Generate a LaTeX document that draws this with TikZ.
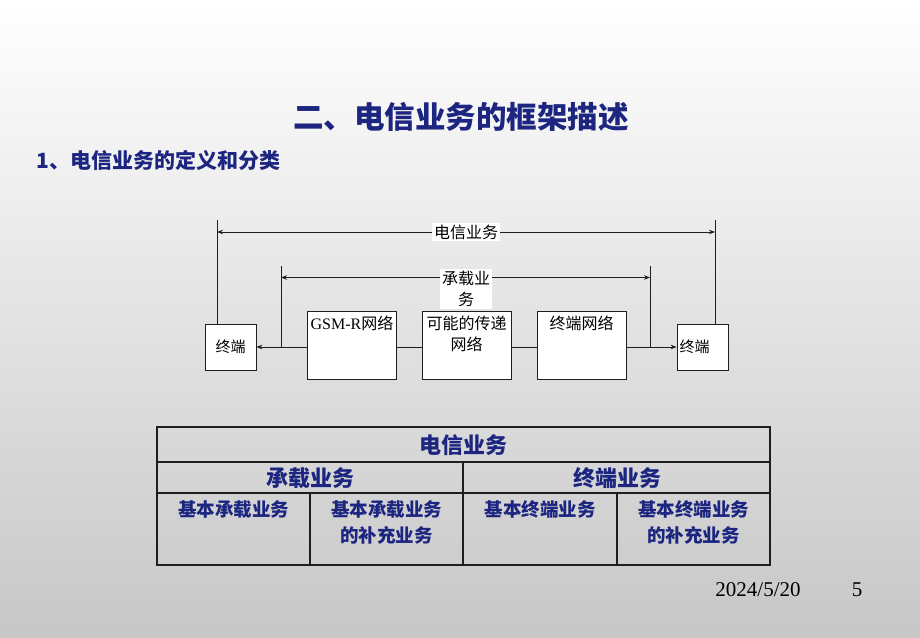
\documentclass[tikz,border=0pt]{standalone}
\usepackage{fontspec}
\setmainfont{Liberation Serif}
\newfontfamily\cjk{Noto Sans CJK SC}
\usetikzlibrary{arrows.meta}
\definecolor{titleblue}{RGB}{28,38,128}
\definecolor{linegray}{RGB}{30,30,30}
\tikzset{
  thinline/.style={draw=linegray, line width=0.8pt},
  arr/.style={thinline, -{Stealth[length=6pt,width=4.5pt]}},
  netbox/.style={thinline, fill=white, inner sep=3pt, minimum width=89pt,
    text height=15pt, text depth=47pt, align=center, anchor=north,
    font=\cjk\fontsize{16}{21}\selectfont},
  termbox/.style={thinline, fill=white, inner sep=2pt, minimum width=51pt,
    minimum height=46pt, font=\cjk\fontsize{15}{18}\selectfont},
  spanlab/.style={fill=white, inner sep=2pt, align=center,
    font=\cjk\fontsize{16}{21}\selectfont},
  headcell/.style={text=titleblue, font=\cjk\bfseries\fontsize{22}{26}\selectfont},
  subcell/.style={text=titleblue, anchor=north, align=center,
    font=\cjk\bfseries\fontsize{18.5}{26}\selectfont}
}
\begin{document}
\begin{tikzpicture}[x=1pt,y=-1pt]
% Hintergrund
\shade[top color=white, bottom color=black!22] (0,0) rectangle (920,637);
\useasboundingbox (0,0) rectangle (920,637);
% Titel
\node[text=titleblue, font=\cjk\bfseries\fontsize{30.5}{34}\selectfont] (title) at (461,117) {二、电信业务的框架描述};
\node[text=titleblue, anchor=west, font=\cjk\bfseries\fontsize{21}{24}\selectfont] (subtitle) at (33,160) {1、电信业务的定义和分类};
% Endgeraete und Netze
\node[termbox] (lterm) at (230.5,347) {终端};
\node[termbox, align=left, text width=46pt] (rterm) at (702.5,347) {终端};
\node[netbox] (gsm) at (352,311) {{\rmfamily GSM-R}网络};
\node[netbox, text height=36pt, text depth=26pt] (trans) at (466.5,311) {可能的传递\\网络};
\node[netbox] (tnet) at (581.5,311) {终端网络};
% Verbindungen
\draw[arr] (gsm.west |- lterm) -- (lterm.east);
\draw[thinline] (gsm.east |- lterm) -- (trans.west |- lterm);
\draw[thinline] (trans.east |- lterm) -- (tnet.west |- lterm);
\draw[arr] (tnet.east |- lterm) -- (rterm.west);
% Spanne: Telekommunikationsdienst
\coordinate (otl) at (217,220);
\coordinate (otr) at (715,220);
\draw[thinline] (otl) -- (otl |- lterm.north);
\draw[thinline] (otr) -- (otr |- rterm.north);
\node[spanlab] (tele) at (466,232) {电信业务};
\draw[arr] (tele.west) -- (tele.west -| otl);
\draw[arr] (tele.east) -- (tele.east -| otr);
% Spanne: Traegerdienst
\coordinate (itl) at (281,266);
\coordinate (itr) at (650,266);
\draw[thinline] (itl) -- (itl |- lterm);
\draw[thinline] (itr) -- (itr |- lterm);
\node[spanlab] (bear) at (466,289) {承载业\\务};
\coordinate (ila) at (281,277.5);
\draw[arr] (ila -| bear.west) -- (ila);
\draw[arr] (ila -| bear.east) -- (ila -| itr);
% Tabelle
\draw[draw=linegray, line width=1.1pt] (157,462) -- (770,462);
\draw[draw=linegray, line width=1.1pt] (157,493) -- (770,493);
\draw[draw=linegray, line width=1.1pt] (463,462) -- (463,565);
\draw[draw=linegray, line width=1.1pt] (310,493) -- (310,565);
\draw[draw=linegray, line width=1.1pt] (617,493) -- (617,565);
\draw[draw=linegray, line width=2pt] (157,427) rectangle (770,565);
\node[headcell] (c0) at (463,445) {电信业务};
\node[headcell] (c1) at (310,478) {承载业务};
\node[headcell] (c2) at (617,478) {终端业务};
\node[subcell] (c11) at (233.5,497) {基本承载业务};
\node[subcell] (c12) at (386.5,497) {基本承载业务\\的补充业务};
\node[subcell] (c21) at (540,497) {基本终端业务};
\node[subcell] (c22) at (693.5,497) {基本终端业务\\的补充业务};
% Fusszeile
\node[font=\fontsize{21}{24}\selectfont] (date) at (758,590) {2024/5/20};
\node[font=\fontsize{21}{24}\selectfont] (page) at (857,590) {5};
\end{tikzpicture}
\end{document}
